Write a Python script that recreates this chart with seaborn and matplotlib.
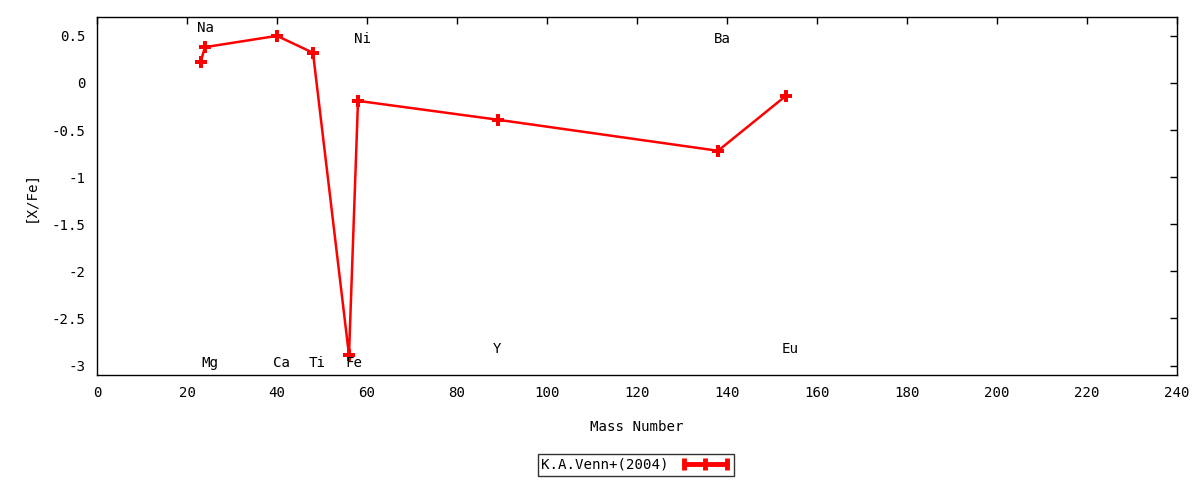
import matplotlib
matplotlib.use("Agg")
import matplotlib.pyplot as plt
import seaborn as sns
import pandas as pd
from matplotlib.lines import Line2D
from matplotlib.ticker import FuncFormatter

elements = ["Na", "Mg", "Ca", "Ti", "Fe", "Ni", "Y", "Ba", "Eu"]
mass_number = [23, 24, 40, 48, 56, 58, 89, 138, 153]
x_fe = [0.22, 0.38, 0.50, 0.32, -2.89, -0.19, -0.39, -0.72, -0.14]

label_x = [24, 25, 41, 49, 57, 59, 89, 139, 154]
label_y = [0.58, -2.97, -2.97, -2.97, -2.97, 0.47, -2.82, 0.47, -2.82]

series_name = "K.A.Venn+(2004)"

sns.set_theme(style="white")
plt.rcParams["font.family"] = ["DejaVu Sans Mono"]
plt.rcParams["axes.unicode_minus"] = False

FS = 10.2

df = pd.DataFrame({"mass": mass_number, "xfe": x_fe})

fig = plt.figure(figsize=(12, 4.8), dpi=100)
ax = fig.add_axes([97 / 1200, 1 - 375 / 480, 1080 / 1200, 358 / 480])

sns.lineplot(data=df, x="mass", y="xfe", ax=ax, color="red", linewidth=1.8,
             marker="P", markersize=9, markeredgewidth=0, sort=False,
             legend=False)

for name, lx, ly in zip(elements, label_x, label_y):
    ax.text(lx, ly, name, ha="center", va="center", fontsize=FS, color="black")

ax.set_xlim(0, 240)
ax.set_ylim(-3.1, 0.7)
ax.set_xticks(range(0, 241, 20))
ax.set_yticks([-3, -2.5, -2, -1.5, -1, -0.5, 0, 0.5])
ax.yaxis.set_major_formatter(FuncFormatter(lambda v, p: ("%g" % v)))
ax.tick_params(direction="in", length=5, width=1, top=True, right=True,
               labelsize=FS, colors="black", pad=8)
for s in ax.spines.values():
    s.set_color("black")
    s.set_linewidth(1)
ax.set_xlabel("Mass Number", fontsize=FS, labelpad=14, color="black")
ax.set_ylabel("[X/Fe]", fontsize=FS, labelpad=10, color="black")
ax.grid(False)

handle = Line2D([], [], color="red", linewidth=3.5, marker="|",
                markersize=9, markeredgewidth=3.5)
leg = fig.legend([handle], [series_name], loc="center",
                 bbox_to_anchor=(636 / 1200, 1 - 465 / 480),
                 markerfirst=False, numpoints=3, frameon=True, fancybox=False,
                 fontsize=FS, handlelength=3.6, borderpad=0.25,
                 handletextpad=0.8, borderaxespad=0)
leg.get_frame().set_edgecolor("black")
leg.get_frame().set_linewidth(1)
for t in leg.get_texts():
    t.set_color("black")

fig.savefig("out.png", dpi=100)
